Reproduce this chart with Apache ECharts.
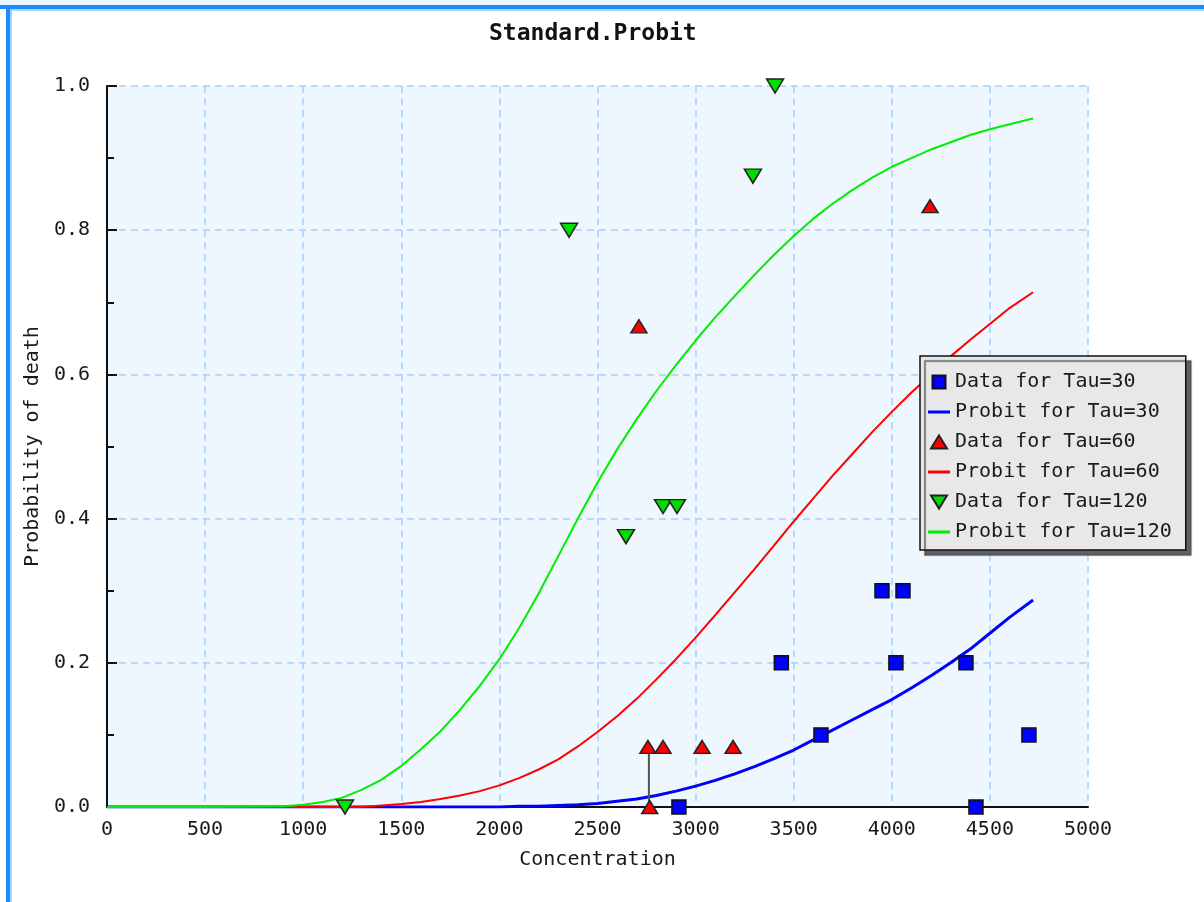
<!DOCTYPE html>
<html>
<head>
<meta charset="utf-8">
<style>html,body{margin:0;padding:0;background:#fff;}#chart{width:1204px;height:902px;}</style>
<script src="https://cdn.jsdelivr.net/npm/echarts@6/dist/echarts.min.js"></script>
</head>
<body>
<div id="chart"></div>
<script>
// ---- data ----
const xTicks = [0, 500, 1000, 1500, 2000, 2500, 3000, 3500, 4000, 4500, 5000];
const yTicks = ['0.0', '0.2', '0.4', '0.6', '0.8', '1.0'];
const legendNames = ['Data for Tau=30', 'Probit for Tau=30', 'Data for Tau=60', 'Probit for Tau=60', 'Data for Tau=120', 'Probit for Tau=120'];

const data30x = [2915, 3437, 3639, 3950, 4057, 4021, 4378, 4429, 4699];
const data30y = [0, 0.2, 0.1, 0.3, 0.3, 0.2, 0.2, 0, 0.1];

const data60x = [2711, 4195, 2757, 2834, 3033, 3191, 2766];
const data60y = [0.6667, 0.8333, 0.0833, 0.0833, 0.0833, 0.0833, 0];

const data120x = [1213, 2355, 2645, 2834, 2905, 3292, 3405];
const data120y = [0, 0.8, 0.375, 0.4167, 0.4167, 0.875, 1.0];

const dropX = [2762, 2762];
const dropY = [0, 0.0833];

const curveX = [0, 500, 900, 1000, 1100, 1200, 1300, 1400, 1500, 1600, 1700, 1800, 1900, 2000, 2100, 2200, 2300, 2400, 2500, 2600, 2700, 2800, 2900, 3000, 3100, 3200, 3300, 3400, 3500, 3600, 3700, 3800, 3900, 4000, 4100, 4200, 4300, 4400, 4500, 4600, 4720];
const probit30 = [0, 0, 0, 0, 0, 0, 0, 0, 0, 0, 0, 0, 0, 0, 0.001, 0.001, 0.002, 0.003, 0.005, 0.008, 0.011, 0.016, 0.022, 0.029, 0.037, 0.046, 0.056, 0.067, 0.079, 0.093, 0.107, 0.121, 0.135, 0.149, 0.165, 0.182, 0.2, 0.219, 0.241, 0.263, 0.287];
const probit60 = [0, 0, 0, 0, 0, 0, 0, 0.002, 0.004, 0.007, 0.011, 0.016, 0.022, 0.03, 0.04, 0.052, 0.066, 0.084, 0.104, 0.126, 0.15, 0.177, 0.205, 0.235, 0.266, 0.298, 0.33, 0.363, 0.396, 0.428, 0.46, 0.49, 0.52, 0.548, 0.575, 0.6, 0.625, 0.648, 0.67, 0.692, 0.714];
const probit120 = [0, 0, 0.001, 0.003, 0.007, 0.013, 0.024, 0.038, 0.057, 0.08, 0.105, 0.135, 0.168, 0.205, 0.248, 0.296, 0.348, 0.4, 0.45, 0.496, 0.538, 0.577, 0.613, 0.647, 0.679, 0.709, 0.738, 0.766, 0.792, 0.816, 0.837, 0.856, 0.873, 0.888, 0.9, 0.912, 0.922, 0.932, 0.94, 0.947, 0.955];

// ---- build ----
const zip = (xs, ys) => xs.map((x, i) => [x, ys[i]]);
const FONT = 'DejaVu Sans Mono';
const TXT = '#1a1a1a';
const ICON_SQUARE = 'path://M0,0 L12,0 L12,12 L0,12 Z';
const ICON_UP = 'path://M8,0 L16,13 L0,13 Z';
const ICON_DOWN = 'path://M0,0 L16,0 L8,13 Z';
const ICON_LINE = 'path://M0,0 L22,0 L22,3 L0,3 Z';
const legendIcons = [ICON_SQUARE, ICON_LINE, ICON_UP, ICON_LINE, ICON_DOWN, ICON_LINE];

const chart = echarts.init(document.getElementById('chart'), null, {renderer: 'canvas'});
chart.setOption({
  backgroundColor: '#ffffff',
  animation: false,
  title: {
    text: 'Standard.Probit',
    left: 484,
    top: 18,
    textStyle: {fontFamily: FONT, fontWeight: 'bold', fontSize: 23, color: '#111'}
  },
  graphic: [
    {type: 'rect', shape: {x: 0, y: 0, width: 1204, height: 6}, style: {fill: '#eaf5ff'}, silent: true},
    {type: 'rect', shape: {x: 0, y: 5, width: 1204, height: 4}, style: {fill: '#1a8cff'}, silent: true},
    {type: 'rect', shape: {x: 9, y: 9, width: 1195, height: 2}, style: {fill: '#a9d3ff'}, silent: true},
    {type: 'rect', shape: {x: 6, y: 5, width: 4, height: 897}, style: {fill: '#1a8cff'}, silent: true},
    {type: 'rect', shape: {x: 10, y: 9, width: 2, height: 893}, style: {fill: '#a9d3ff'}, silent: true}
  ],
  grid: {
    left: 107, right: 116, top: 86, bottom: 95,
    show: true, backgroundColor: '#eef6fe', borderWidth: 0
  },
  legend: {
    orient: 'vertical',
    left: 920, top: 356,
    data: legendNames.map((n, i) => ({name: n, icon: legendIcons[i]})),
    backgroundColor: '#e8e8e8',
    borderColor: '#111',
    borderWidth: 1.5,
    borderRadius: 0,
    shadowColor: 'rgba(80,80,80,0.9)',
    shadowBlur: 1,
    shadowOffsetX: 5,
    shadowOffsetY: 5,
    padding: [16, 14, 8, 8],
    itemWidth: 22,
    itemHeight: 13,
    itemGap: 10,
    symbolKeepAspect: true,
    textStyle: {fontFamily: FONT, fontSize: 20, color: TXT},
    selectedMode: false
  },
  xAxis: {
    type: 'value',
    min: 0, max: 5000, interval: 500,
    name: 'Concentration',
    nameLocation: 'middle',
    nameGap: 43,
    nameTextStyle: {fontFamily: FONT, fontSize: 20, color: TXT},
    axisLine: {show: true, onZero: false, lineStyle: {color: '#111', width: 2}},
    axisTick: {show: false},
    axisLabel: {fontFamily: FONT, fontSize: 20, color: TXT, margin: 13,
      formatter: v => (xTicks.indexOf(v) >= 0 ? String(v) : '')},
    splitLine: {show: true, lineStyle: {color: '#a6cffc', width: 1.5, type: [7, 5]}}
  },
  yAxis: {
    type: 'value',
    min: 0, max: 1, interval: 0.2,
    name: 'Probability of death',
    nameLocation: 'middle',
    nameGap: 64,
    nameTextStyle: {fontFamily: FONT, fontSize: 20, color: TXT},
    axisLine: {show: true, onZero: false, lineStyle: {color: '#111', width: 2}},
    axisTick: {show: true, inside: true, length: 10, lineStyle: {color: '#111', width: 2}},
    minorTick: {show: true, splitNumber: 2, length: 7, lineStyle: {color: '#111', width: 2}},
    axisLabel: {fontFamily: FONT, fontSize: 20, color: TXT, margin: 17,
      formatter: v => yTicks[Math.round(v / 0.2)] || ''},
    splitLine: {show: true, lineStyle: {color: '#a6cffc', width: 1.5, type: [7, 5]}}
  },
  series: [
    {name: 'Probit for Tau=30', type: 'line', data: zip(curveX, probit30), symbol: 'none', smooth: false,
      lineStyle: {color: '#0000ff', width: 3}, itemStyle: {color: '#0000ff'}, z: 2},
    {name: 'Probit for Tau=60', type: 'line', data: zip(curveX, probit60), symbol: 'none', smooth: false,
      lineStyle: {color: '#ff0000', width: 2}, itemStyle: {color: '#ff0000'}, z: 3},
    {name: 'Probit for Tau=120', type: 'line', data: zip(curveX, probit120), symbol: 'none', smooth: false,
      lineStyle: {color: '#00ee00', width: 2}, itemStyle: {color: '#00ee00'}, z: 4},
    {name: 'drop', type: 'line', data: zip(dropX, dropY), symbol: 'none',
      lineStyle: {color: '#555', width: 2}, z: 5},
    {name: 'Data for Tau=30', type: 'scatter', data: zip(data30x, data30y), symbol: 'rect', symbolSize: 14,
      itemStyle: {color: '#0000ff', borderColor: '#111', borderWidth: 1.5, opacity: 1}, z: 6},
    {name: 'Data for Tau=60', type: 'scatter', data: zip(data60x, data60y), symbol: 'triangle', symbolSize: [16, 13],
      itemStyle: {color: '#ff0000', borderColor: '#222', borderWidth: 1.5, opacity: 1}, z: 6},
    {name: 'Data for Tau=120', type: 'scatter', data: zip(data120x, data120y), symbol: 'triangle', symbolSize: [17, 14], symbolRotate: 180,
      itemStyle: {color: '#00dd00', borderColor: '#222', borderWidth: 1.5, opacity: 1}, z: 6}
  ]
});
</script>
</body>
</html>
